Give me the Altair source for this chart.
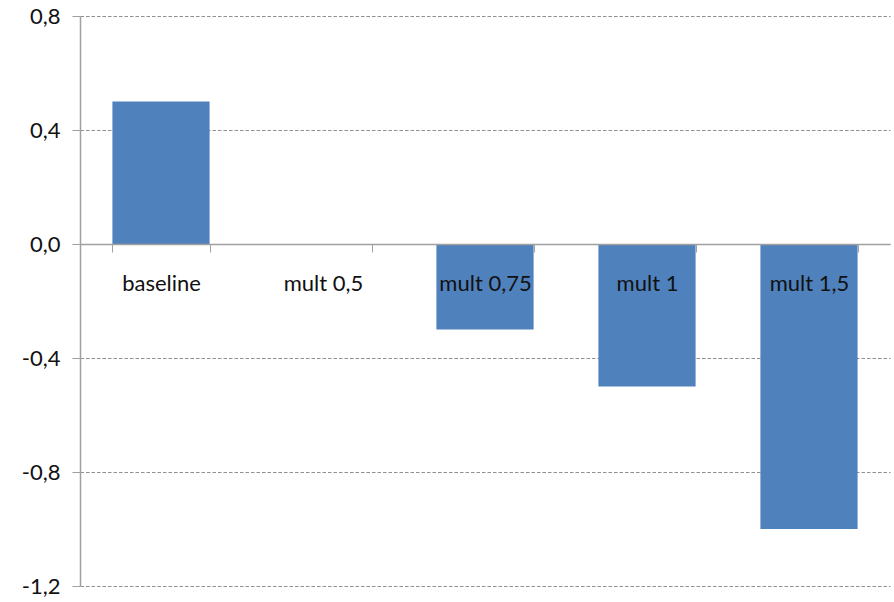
import altair as alt
import pandas as pd

# Scenario results per multiplier
categories = ["baseline", "mult 0,5", "mult 0,75", "mult 1", "mult 1,5"]
values = [0.5, 0.0, -0.3, -0.5, -1.0]
y_ticks = [-1.2, -0.8, -0.4, 0.0, 0.4, 0.8]

df = pd.DataFrame({"scenario": categories, "value": values})

W, H = 810, 570
Y_MIN, Y_MAX = -1.2, 0.8
# Category axis sits on the zero line
zero_offset = -H * (0 - Y_MIN) / (Y_MAX - Y_MIN)

FONT = "Lato"
GRAY = "#a0a0a0"
GRID = "#909090"

y_scale = alt.Scale(domain=[Y_MIN, Y_MAX], nice=False, zero=False)
x_scale = alt.Scale(domain=categories, paddingInner=0.4, paddingOuter=0.2)

label_expr = "replace(format(datum.value, '.1f'), '\u2212', '-')"
label_expr = f"replace({label_expr}, '.', ',')"

bars = alt.Chart(df).mark_bar(color="#4F81BD").encode(
    x=alt.X(
        "scenario:N",
        scale=x_scale,
        sort=categories,
        axis=alt.Axis(
            title=None,
            orient="bottom",
            offset=zero_offset,
            tickBand="extent",
            tickSize=8,
            tickColor=GRAY,
            domainColor=GRAY,
            domainWidth=1.5,
            labelAngle=0,
            labelFont=FONT,
            labelFontSize=22,
            labelColor="#111111",
            labelPadding=21,
            zindex=1,
        ),
    ),
    y=alt.Y(
        "value:Q",
        scale=y_scale,
        axis=alt.Axis(
            title=None,
            values=y_ticks,
            labelExpr=label_expr,
            grid=True,
            gridDash=[3.5, 2],
            gridColor=GRID,
            tickSize=8,
            tickColor=GRAY,
            domainColor=GRAY,
            domainWidth=1.5,
            labelFont=FONT,
            labelFontSize=22,
            labelColor="#111111",
            labelPadding=12,
        ),
    ),
)

chart = (
    bars.properties(
        width=W,
        height=H,
        autosize=alt.AutoSizeParams(type="none"),
        padding={"left": 80, "top": 16, "right": 4, "bottom": 16},
        background="white",
    )
    .configure_view(stroke=None)
)

chart.save("out.html", embed_options={"renderer": "svg", "actions": False})
